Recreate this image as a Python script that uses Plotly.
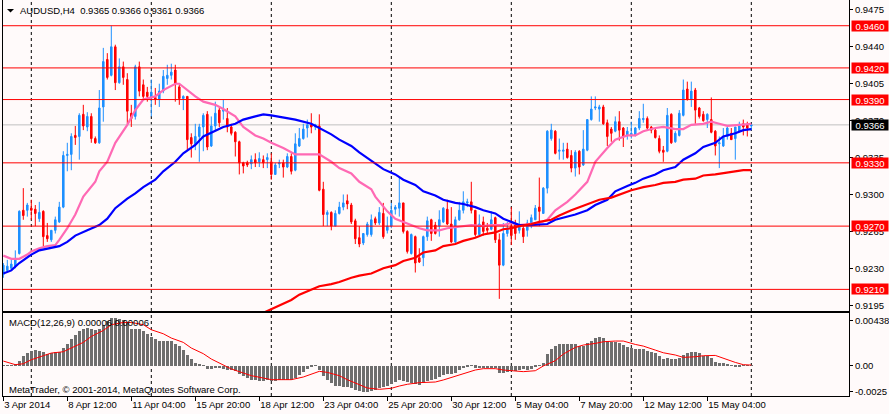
import plotly.graph_objects as go

# time axis: bar index of each label and its text
label_bars = [0, 16, 32, 48, 64, 80, 96, 112, 128, 144, 160, 176]
time_labels = [
    "3 Apr 2014", "8 Apr 12:00", "11 Apr 04:00", "15 Apr 20:00",
    "18 Apr 12:00", "23 Apr 04:00", "25 Apr 20:00", "30 Apr 12:00",
    "5 May 04:00", "7 May 20:00", "12 May 12:00", "15 May 04:00",
]

# AUDUSD H4 candles, one entry per bar
opens = [
    0.9224, 0.9228, 0.9230, 0.9232, 0.9244, 0.9285, 0.9285, 0.9287, 0.9286, 0.9277,
    0.9284, 0.9261, 0.9257, 0.9266, 0.9274, 0.9288, 0.9337, 0.9338, 0.9356, 0.9355,
    0.9376, 0.9364, 0.9374, 0.9353, 0.9349, 0.9383, 0.9428, 0.9413, 0.9440, 0.9406,
    0.9421, 0.9409, 0.9377, 0.9374, 0.9421, 0.9404, 0.9397, 0.9392, 0.9392, 0.9390,
    0.9398, 0.9410, 0.9413, 0.9418, 0.9402, 0.9391, 0.9393, 0.9354, 0.9348, 0.9355,
    0.9364, 0.9376, 0.9346, 0.9365, 0.9380, 0.9379, 0.9372, 0.9364, 0.9359, 0.9350,
    0.9330, 0.9330, 0.9329, 0.9333, 0.9331, 0.9333, 0.9333, 0.9331, 0.9319, 0.9329,
    0.9330, 0.9326, 0.9336, 0.9323, 0.9346, 0.9353, 0.9363, 0.9366, 0.9364, 0.9365,
    0.9305, 0.9281, 0.9283, 0.9270, 0.9282, 0.9288, 0.9294, 0.9290, 0.9275, 0.9259,
    0.9254, 0.9262, 0.9262, 0.9277, 0.9273, 0.9282, 0.9266, 0.9270, 0.9286, 0.9287,
    0.9292, 0.9265, 0.9244, 0.9260, 0.9240, 0.9240, 0.9260, 0.9276, 0.9271, 0.9270,
    0.9274, 0.9286, 0.9272, 0.9255, 0.9276, 0.9285, 0.9292, 0.9293, 0.9285, 0.9262,
    0.9274, 0.9268, 0.9267, 0.9278, 0.9257, 0.9233, 0.9263, 0.9270, 0.9271, 0.9266,
    0.9268, 0.9266, 0.9273, 0.9276, 0.9288, 0.9282, 0.9306, 0.9353, 0.9360, 0.9341,
    0.9341, 0.9343, 0.9337, 0.9325, 0.9341, 0.9328, 0.9342, 0.9371, 0.9382, 0.9381,
    0.9383, 0.9368, 0.9362, 0.9360, 0.9369, 0.9363, 0.9356, 0.9356, 0.9356, 0.9363,
    0.9371, 0.9372, 0.9364, 0.9361, 0.9353, 0.9342, 0.9341, 0.9376, 0.9350, 0.9356,
    0.9375, 0.9400, 0.9390, 0.9399, 0.9382, 0.9376, 0.9371, 0.9371, 0.9360, 0.9348,
    0.9346, 0.9355, 0.9358, 0.9353, 0.9360, 0.9367, 0.9366, 0.9365,
]
highs = [
    0.9235, 0.9238, 0.9238, 0.9247, 0.9285, 0.9306, 0.9292, 0.9295, 0.9290, 0.9293,
    0.9285, 0.9273, 0.9266, 0.9279, 0.9293, 0.9341, 0.9349, 0.9358, 0.9365, 0.9377,
    0.9385, 0.9378, 0.9377, 0.9355, 0.9399, 0.9439, 0.9434, 0.9460, 0.9442, 0.9429,
    0.9426, 0.9415, 0.9385, 0.9423, 0.9426, 0.9409, 0.9402, 0.9409, 0.9401, 0.9405,
    0.9418, 0.9423, 0.9424, 0.9423, 0.9404, 0.9394, 0.9393, 0.9358, 0.9367, 0.9367,
    0.9377, 0.9379, 0.9374, 0.9388, 0.9382, 0.9390, 0.9382, 0.9367, 0.9360, 0.9351,
    0.9331, 0.9332, 0.9337, 0.9339, 0.9340, 0.9337, 0.9339, 0.9339, 0.9330, 0.9333,
    0.9333, 0.9339, 0.9339, 0.9358, 0.9363, 0.9367, 0.9371, 0.9377, 0.9367, 0.9376,
    0.9312, 0.9285, 0.9284, 0.9285, 0.9293, 0.9300, 0.9300, 0.9292, 0.9277, 0.9270,
    0.9263, 0.9274, 0.9281, 0.9279, 0.9288, 0.9292, 0.9279, 0.9292, 0.9290, 0.9317,
    0.9292, 0.9266, 0.9263, 0.9261, 0.9249, 0.9261, 0.9279, 0.9277, 0.9274, 0.9285,
    0.9288, 0.9295, 0.9288, 0.9279, 0.9293, 0.9303, 0.9296, 0.9312, 0.9285, 0.9281,
    0.9279, 0.9273, 0.9284, 0.9279, 0.9263, 0.9273, 0.9274, 0.9288, 0.9276, 0.9284,
    0.9271, 0.9276, 0.9281, 0.9290, 0.9316, 0.9307, 0.9361, 0.9367, 0.9361, 0.9353,
    0.9349, 0.9349, 0.9342, 0.9342, 0.9342, 0.9361, 0.9371, 0.9393, 0.9393, 0.9385,
    0.9385, 0.9371, 0.9364, 0.9374, 0.9379, 0.9364, 0.9364, 0.9369, 0.9364, 0.9379,
    0.9386, 0.9374, 0.9365, 0.9363, 0.9356, 0.9346, 0.9382, 0.9377, 0.9360, 0.9380,
    0.9409, 0.9407, 0.9407, 0.9401, 0.9383, 0.9379, 0.9377, 0.9392, 0.9361, 0.9355,
    0.9363, 0.9364, 0.9363, 0.9364, 0.9369, 0.9371, 0.9369, 0.9366,
]
lows = [
    0.9221, 0.9227, 0.9228, 0.9230, 0.9243, 0.9276, 0.9279, 0.9276, 0.9270, 0.9274,
    0.9251, 0.9255, 0.9255, 0.9263, 0.9273, 0.9287, 0.9322, 0.9323, 0.9347, 0.9333,
    0.9361, 0.9360, 0.9349, 0.9348, 0.9348, 0.9369, 0.9409, 0.9412, 0.9399, 0.9405,
    0.9404, 0.9367, 0.9364, 0.9371, 0.9393, 0.9390, 0.9388, 0.9374, 0.9385, 0.9383,
    0.9396, 0.9404, 0.9409, 0.9388, 0.9385, 0.9380, 0.9342, 0.9335, 0.9342, 0.9331,
    0.9341, 0.9342, 0.9345, 0.9361, 0.9364, 0.9371, 0.9359, 0.9356, 0.9336, 0.9319,
    0.9320, 0.9326, 0.9324, 0.9326, 0.9326, 0.9325, 0.9325, 0.9314, 0.9319, 0.9325,
    0.9316, 0.9325, 0.9319, 0.9322, 0.9345, 0.9352, 0.9354, 0.9358, 0.9361, 0.9303,
    0.9270, 0.9270, 0.9266, 0.9270, 0.9281, 0.9285, 0.9286, 0.9272, 0.9253, 0.9250,
    0.9252, 0.9260, 0.9260, 0.9271, 0.9271, 0.9258, 0.9263, 0.9268, 0.9281, 0.9279,
    0.9263, 0.9244, 0.9243, 0.9226, 0.9235, 0.9232, 0.9256, 0.9256, 0.9262, 0.9260,
    0.9273, 0.9271, 0.9254, 0.9254, 0.9275, 0.9282, 0.9288, 0.9282, 0.9260, 0.9260,
    0.9261, 0.9263, 0.9266, 0.9254, 0.9201, 0.9232, 0.9260, 0.9252, 0.9257, 0.9263,
    0.9254, 0.9260, 0.9268, 0.9276, 0.9270, 0.9282, 0.9301, 0.9351, 0.9338, 0.9333,
    0.9333, 0.9334, 0.9321, 0.9317, 0.9319, 0.9327, 0.9341, 0.9370, 0.9380, 0.9369,
    0.9366, 0.9346, 0.9350, 0.9359, 0.9351, 0.9345, 0.9352, 0.9353, 0.9355, 0.9361,
    0.9368, 0.9361, 0.9358, 0.9353, 0.9339, 0.9331, 0.9340, 0.9348, 0.9349, 0.9355,
    0.9374, 0.9389, 0.9383, 0.9367, 0.9372, 0.9369, 0.9363, 0.9358, 0.9337, 0.9325,
    0.9345, 0.9352, 0.9352, 0.9333, 0.9359, 0.9356, 0.9355, 0.9361,
]
closes = [
    0.9233, 0.9232, 0.9234, 0.9239, 0.9284, 0.9280, 0.9290, 0.9285, 0.9282, 0.9283,
    0.9260, 0.9258, 0.9266, 0.9276, 0.9288, 0.9337, 0.9338, 0.9355, 0.9354, 0.9375,
    0.9365, 0.9374, 0.9353, 0.9349, 0.9382, 0.9426, 0.9411, 0.9440, 0.9406, 0.9421,
    0.9411, 0.9379, 0.9372, 0.9421, 0.9398, 0.9393, 0.9393, 0.9397, 0.9390, 0.9398,
    0.9412, 0.9413, 0.9416, 0.9405, 0.9391, 0.9393, 0.9352, 0.9348, 0.9355, 0.9364,
    0.9375, 0.9345, 0.9365, 0.9377, 0.9368, 0.9380, 0.9364, 0.9358, 0.9350, 0.9330,
    0.9327, 0.9328, 0.9333, 0.9330, 0.9334, 0.9330, 0.9335, 0.9319, 0.9328, 0.9330,
    0.9326, 0.9336, 0.9322, 0.9348, 0.9353, 0.9362, 0.9366, 0.9364, 0.9366, 0.9304,
    0.9281, 0.9283, 0.9270, 0.9282, 0.9288, 0.9292, 0.9291, 0.9274, 0.9258, 0.9253,
    0.9263, 0.9272, 0.9276, 0.9273, 0.9283, 0.9260, 0.9270, 0.9285, 0.9288, 0.9292,
    0.9265, 0.9246, 0.9262, 0.9235, 0.9236, 0.9260, 0.9275, 0.9263, 0.9263, 0.9276,
    0.9287, 0.9272, 0.9255, 0.9276, 0.9285, 0.9293, 0.9293, 0.9285, 0.9262, 0.9272,
    0.9265, 0.9266, 0.9276, 0.9257, 0.9233, 0.9263, 0.9268, 0.9261, 0.9263, 0.9271,
    0.9260, 0.9273, 0.9278, 0.9287, 0.9284, 0.9306, 0.9360, 0.9361, 0.9339, 0.9342,
    0.9342, 0.9335, 0.9325, 0.9340, 0.9326, 0.9343, 0.9371, 0.9381, 0.9383, 0.9383,
    0.9367, 0.9355, 0.9358, 0.9369, 0.9361, 0.9355, 0.9360, 0.9358, 0.9363, 0.9372,
    0.9372, 0.9363, 0.9361, 0.9354, 0.9341, 0.9340, 0.9375, 0.9349, 0.9358, 0.9377,
    0.9399, 0.9390, 0.9398, 0.9380, 0.9374, 0.9370, 0.9376, 0.9359, 0.9346, 0.9349,
    0.9355, 0.9363, 0.9352, 0.9364, 0.9365, 0.9364, 0.9363, 0.9366,
]

# moving averages (bar index, value)
ma_pink_bars = [
    0, 2, 4, 6, 7, 9, 11, 13, 14, 16, 18, 20, 23, 24, 26, 28, 31, 33, 35, 38,
    40, 43, 44, 45, 48, 50, 53, 55, 58, 60, 63, 65, 67, 70, 73, 79, 82, 84, 87, 89,
    92, 93, 95, 96, 98, 100, 104, 106, 109, 111, 115, 117, 120, 122, 125, 127, 129, 132, 134, 136,
    138, 141, 143, 146, 148, 151, 153, 156, 158, 160, 163, 165, 168, 170, 172, 175, 177, 179, 181, 184,
    187,
]
ma_pink = [
    0.9242, 0.9239, 0.9239, 0.9243, 0.9246, 0.9249, 0.9251, 0.9252, 0.9257, 0.9268,
    0.9281, 0.9298, 0.9312, 0.9322, 0.9331, 0.9349, 0.9366, 0.9380, 0.9390, 0.9393,
    0.9399, 0.9405, 0.9405, 0.9402, 0.9393, 0.9388, 0.9385, 0.9381, 0.9374, 0.9364,
    0.9356, 0.9353, 0.9349, 0.9344, 0.9338, 0.9338, 0.9331, 0.9325, 0.9320, 0.9312,
    0.9305, 0.9298, 0.9289, 0.9284, 0.9277, 0.9274, 0.9268, 0.9266, 0.9266, 0.9268,
    0.9270, 0.9271, 0.9270, 0.9271, 0.9271, 0.9273, 0.9271, 0.9272, 0.9273, 0.9276,
    0.9285, 0.9293, 0.9300, 0.9312, 0.9331, 0.9344, 0.9352, 0.9356, 0.9356, 0.9360,
    0.9363, 0.9364, 0.9362, 0.9362, 0.9366, 0.9367, 0.9369, 0.9367, 0.9365, 0.9366,
    0.9367,
]
ma_blue_bars = [
    0, 2, 4, 7, 9, 12, 14, 16, 18, 21, 24, 26, 28, 31, 33, 35, 38, 40, 43, 45,
    48, 50, 53, 55, 58, 60, 63, 65, 67, 70, 73, 77, 79, 82, 84, 87, 89, 92, 94, 95,
    98, 100, 103, 105, 108, 110, 113, 115, 118, 120, 123, 125, 127, 129, 132, 136, 138, 141, 143, 146,
    148, 151, 153, 156, 158, 160, 163, 165, 168, 170, 173, 175, 178, 180, 183, 185, 187,
]
ma_blue = [
    0.9225, 0.9228, 0.9235, 0.9243, 0.9247, 0.9249, 0.9251, 0.9255, 0.9261, 0.9266,
    0.9271, 0.9277, 0.9287, 0.9296, 0.9301, 0.9307, 0.9314, 0.9322, 0.9331, 0.9339,
    0.9347, 0.9355, 0.9360, 0.9364, 0.9367, 0.9371, 0.9374, 0.9376, 0.9375, 0.9373,
    0.9371, 0.9367, 0.9363, 0.9357, 0.9352, 0.9346, 0.9340, 0.9332, 0.9327, 0.9324,
    0.9319, 0.9314, 0.9309, 0.9303, 0.9299, 0.9295, 0.9292, 0.9291, 0.9288, 0.9285,
    0.9282, 0.9277, 0.9274, 0.9271, 0.9271, 0.9272, 0.9276, 0.9279, 0.9281, 0.9285,
    0.9290, 0.9295, 0.9303, 0.9308, 0.9311, 0.9315, 0.9319, 0.9323, 0.9326, 0.9333,
    0.9339, 0.9345, 0.9349, 0.9355, 0.9358, 0.9361, 0.9362,
]
ma_red_bars = [
    64, 67, 69, 72, 74, 77, 79, 82, 84, 87, 89, 92, 94, 95, 98, 100, 103, 105, 108, 110,
    113, 115, 118, 120, 123, 125, 127, 129, 132, 134, 137, 139, 142, 144, 147, 149, 152, 154, 157, 158,
    160, 163, 165, 168, 170, 173, 175, 178, 180, 183, 185, 187,
]
ma_red = [
    0.9186, 0.9191, 0.9195, 0.9200, 0.9205, 0.9210, 0.9213, 0.9215, 0.9217, 0.9221,
    0.9223, 0.9225, 0.9228, 0.9230, 0.9233, 0.9237, 0.9240, 0.9245, 0.9247, 0.9251,
    0.9253, 0.9256, 0.9259, 0.9262, 0.9264, 0.9267, 0.9268, 0.9270, 0.9272, 0.9274,
    0.9276, 0.9280, 0.9285, 0.9288, 0.9292, 0.9295, 0.9297, 0.9300, 0.9304, 0.9305,
    0.9307, 0.9309, 0.9311, 0.9312, 0.9314, 0.9315, 0.9318, 0.9319, 0.9320, 0.9322,
    0.9323, 0.9323,
]

# MACD(12,26,9) histogram, one value per bar
macd_hist = [
    0.00002, 0.00001, 0.00003, 0.00010, 0.00049, 0.00091, 0.00123, 0.00143, 0.00149, 0.00146,
    0.00133, 0.00117, 0.00123, 0.00130, 0.00130, 0.00172, 0.00214, 0.00259, 0.00301, 0.00334,
    0.00356, 0.00366, 0.00356, 0.00350, 0.00356, 0.00399, 0.00431, 0.00463, 0.00463, 0.00454,
    0.00447, 0.00415, 0.00356, 0.00356, 0.00356, 0.00334, 0.00311, 0.00279, 0.00259, 0.00237,
    0.00237, 0.00237, 0.00237, 0.00214, 0.00188, 0.00156, 0.00107, 0.00065, 0.00026, 0.00013,
    0.00006, -0.00032, -0.00032, -0.00026, -0.00026, -0.00032, -0.00039, -0.00045, -0.00055, -0.00078,
    -0.00104, -0.00120, -0.00136, -0.00143, -0.00146, -0.00146, -0.00143, -0.00146, -0.00146, -0.00143,
    -0.00143, -0.00143, -0.00136, -0.00120, -0.00087, -0.00065, -0.00032, -0.00013, 0.00002, -0.00045,
    -0.00104, -0.00136, -0.00168, -0.00194, -0.00201, -0.00207, -0.00207, -0.00217, -0.00233, -0.00249,
    -0.00259, -0.00259, -0.00249, -0.00233, -0.00217, -0.00211, -0.00198, -0.00178, -0.00156, -0.00139,
    -0.00149, -0.00156, -0.00165, -0.00178, -0.00188, -0.00172, -0.00146, -0.00139, -0.00133, -0.00107,
    -0.00091, -0.00081, -0.00084, -0.00068, -0.00042, -0.00026, -0.00010, 0.00006, -0.00019, -0.00026,
    -0.00026, -0.00023, -0.00023, -0.00026, -0.00075, -0.00068, -0.00058, -0.00052, -0.00049, -0.00042,
    -0.00036, -0.00042, -0.00032, -0.00016, -0.00003, 0.00029, 0.00110, 0.00159, 0.00191, 0.00207,
    0.00211, 0.00211, 0.00207, 0.00207, 0.00191, 0.00191, 0.00217, 0.00243, 0.00266, 0.00279,
    0.00266, 0.00243, 0.00233, 0.00233, 0.00224, 0.00201, 0.00185, 0.00168, 0.00162, 0.00162,
    0.00159, 0.00146, 0.00133, 0.00120, 0.00094, 0.00065, 0.00078, 0.00065, 0.00065, 0.00078,
    0.00104, 0.00120, 0.00136, 0.00133, 0.00126, 0.00094, 0.00094, 0.00071, 0.00039, 0.00029,
    0.00023, 0.00013, 0.00001, -0.00013, -0.00006, -0.00003, 0.00003, 0.00006,
]
# signal line (bar index, value)
signal_bars = [
    0, 2, 3, 5, 7, 10, 12, 15, 17, 20, 22, 25, 27, 30, 32, 35, 37, 40, 42, 45,
    47, 50, 52, 55, 57, 60, 62, 65, 67, 70, 72, 75, 77, 79, 81, 84, 86, 89, 91, 94,
    97, 99, 101, 104, 106, 108, 110, 111, 113, 115, 118, 120, 123, 125, 128, 130, 133, 135, 138, 140,
    143, 145, 148, 150, 153, 155, 158, 160, 163, 165, 168, 170, 173, 175, 178, 180, 183, 185, 187,
]
signal = [
    0.00045, 0.00019, 0.00010, 0.00019, 0.00058, 0.00097, 0.00123, 0.00136, 0.00172, 0.00227,
    0.00285, 0.00343, 0.00399, 0.00421, 0.00421, 0.00399, 0.00350, 0.00311, 0.00269, 0.00227,
    0.00172, 0.00117, 0.00065, 0.00010, -0.00032, -0.00071, -0.00097, -0.00120, -0.00136, -0.00136,
    -0.00136, -0.00110, -0.00081, -0.00055, -0.00065, -0.00097, -0.00136, -0.00185, -0.00217, -0.00230,
    -0.00220, -0.00198, -0.00181, -0.00165, -0.00162, -0.00159, -0.00139, -0.00126, -0.00107, -0.00075,
    -0.00042, -0.00029, -0.00029, -0.00042, -0.00049, -0.00058, -0.00049, -0.00003, 0.00049, 0.00113,
    0.00178, 0.00201, 0.00217, 0.00233, 0.00240, 0.00240, 0.00207, 0.00191, 0.00152, 0.00126,
    0.00104, 0.00081, 0.00087, 0.00097, 0.00100, 0.00071, 0.00032, 0.00010, 0.00006,
]

# horizontal levels drawn on the chart
levels = [0.9460, 0.9420, 0.9390, 0.9330, 0.9270, 0.9210]
price_ticks = [0.9475, 0.9440, 0.9405, 0.9370, 0.9335, 0.9300, 0.9265, 0.9230, 0.9195]
macd_ticks = [0.00438, 0.0, -0.0025]
macd_ticktext = ["0.00438", "0.00", "-0.0025"]

W, H = 889, 414
BG = "#fffafa"
FONT = dict(family="Liberation Sans, Arial, sans-serif", size=9.5, color="#000000")

bars = list(range(len(closes)))
bid = closes[-1]

fig = go.Figure()

fig.add_trace(
    go.Candlestick(
        x=bars,
        open=opens,
        high=highs,
        low=lows,
        close=closes,
        increasing=dict(line=dict(color="#1e90ff", width=1), fillcolor="#1e90ff"),
        decreasing=dict(line=dict(color="#ff0000", width=1), fillcolor="#ff0000"),
        hoverinfo="skip",
        showlegend=False,
    )
)

for xs, ys, col in [
    (ma_pink_bars, ma_pink, "#ff69b4"),
    (ma_blue_bars, ma_blue, "#0000ff"),
    (ma_red_bars, ma_red, "#ff0000"),
]:
    fig.add_trace(
        go.Scatter(
            x=xs, y=ys, mode="lines", line=dict(color=col, width=2.2),
            hoverinfo="skip", showlegend=False,
        )
    )

# MACD window
fig.add_trace(
    go.Bar(
        x=bars, y=macd_hist, xaxis="x2", yaxis="y2", width=0.7,
        marker=dict(color="#6e6e6e", line=dict(width=0)),
        hoverinfo="skip", showlegend=False,
    )
)
fig.add_trace(
    go.Scatter(
        x=signal_bars, y=signal, xaxis="x2", yaxis="y2", mode="lines",
        line=dict(color="#ff0000", width=1), hoverinfo="skip", showlegend=False,
    )
)

# 4 px per bar, first bar at x=3.3 px, price scale line at x=849 px
x_range = [-0.075, (849 - 3.3) / 4]
x_dom = [3 / W, 849 / W]

fig.update_layout(
    width=W,
    height=H,
    margin=dict(l=0, r=0, t=0, b=0, autoexpand=False),
    paper_bgcolor=BG,
    plot_bgcolor=BG,
    font=FONT,
    showlegend=False,
    hovermode=False,
    boxgap=0.45,
    bargap=0,
    xaxis=dict(
        domain=x_dom, range=x_range, anchor="y", automargin=False,
        showticklabels=False, showgrid=False, zeroline=False,
        showline=True, linecolor="#000000", linewidth=1,
        rangeslider=dict(visible=False), fixedrange=True,
    ),
    yaxis=dict(
        domain=[1 - 311 / H, 1], range=[0.91895, 0.94844], side="right",
        automargin=False,
        tickvals=price_ticks, tickformat=".4f", ticks="outside", ticklen=3,
        tickcolor="#000000", showgrid=False, zeroline=False,
        showline=True, mirror=True, linecolor="#000000", linewidth=1,
        tickfont=FONT,
    ),
    xaxis2=dict(
        domain=x_dom, range=x_range, anchor="y2", automargin=False,
        tickvals=label_bars, ticktext=time_labels, ticks="outside", ticklen=4,
        tickcolor="#000000", ticklabelposition="outside right", tickangle=0,
        showgrid=False, zeroline=False,
        showline=True, mirror=True, linecolor="#000000", linewidth=1,
        tickfont=FONT,
    ),
    yaxis2=dict(
        domain=[1 - 396 / H, 1 - 313 / H], range=[-0.00295, 0.00513], side="right",
        anchor="x2", automargin=False, tickvals=macd_ticks, ticktext=macd_ticktext,
        ticks="outside", ticklen=3, tickcolor="#000000",
        showgrid=False, zeroline=False,
        showline=True, mirror=True, linecolor="#000000", linewidth=1,
        tickfont=FONT,
    ),
)

# dashed period separators through both windows
for gx in range(7, len(bars), 30):
    for xr, yr in [("x", "y domain"), ("x2", "y2 domain")]:
        fig.add_shape(
            type="line", xref=xr, yref=yr,
            x0=gx, x1=gx, y0=0, y1=1, layer="below",
            line=dict(color="#000000", width=1, dash="3px,3px"),
        )

# horizontal price levels and bid line
for lvl in levels:
    fig.add_shape(
        type="line", xref="x domain", yref="y", x0=0, x1=1, y0=lvl, y1=lvl,
        line=dict(color="#ff0000", width=1), layer="above",
    )
fig.add_shape(
    type="line", xref="x domain", yref="y", x0=0, x1=1, y0=bid, y1=bid,
    line=dict(color="#c0c0c0", width=1), layer="below",
)

# price labels on the scale
for lvl, bg in [(v, "#ff0000") for v in levels] + [(bid, "#000000")]:
    fig.add_annotation(
        xref="paper", yref="y", x=851 / W, y=lvl, xanchor="left", yanchor="middle",
        text=f"{lvl:.4f}", showarrow=False, bgcolor=bg, borderpad=0,
        width=36, height=10, align="center",
        font=dict(family=FONT["family"], size=9.5, color="#ffffff"),
    )

# window captions
fig.add_shape(
    type="path", xref="paper", yref="paper", line=dict(width=0), fillcolor="#000000",
    path=f"M {7 / W} {1 - 9 / H} L {14 / W} {1 - 9 / H} L {10.5 / W} {1 - 12.5 / H} Z",
)
fig.add_annotation(
    xref="paper", yref="paper", x=18 / W, y=1 - 10.5 / H, xanchor="left", yanchor="middle",
    text=f"AUDUSD,H4\u00a0 {opens[-1]:.4f} {highs[-1]:.4f} {lows[-1]:.4f} {closes[-1]:.4f}",
    showarrow=False, font=FONT,
)
fig.add_annotation(
    xref="paper", yref="paper", x=7 / W, y=1 - 322.5 / H, xanchor="left", yanchor="middle",
    text=f"MACD(12,26,9) {macd_hist[-1]:.5f} {signal[-1]:.5f}",
    showarrow=False, font=FONT,
)
fig.add_annotation(
    xref="paper", yref="paper", x=7 / W, y=1 - 389 / H, xanchor="left", yanchor="middle",
    text="MetaTrader, © 2001-2014, MetaQuotes Software Corp.",
    showarrow=False, font=FONT,
)

# the page body has a default 8px margin; drop it so the figure fills the window
fig.write_html(
    "out.html",
    config={"displayModeBar": False},
    post_script="document.body.style.margin = '0';",
)
